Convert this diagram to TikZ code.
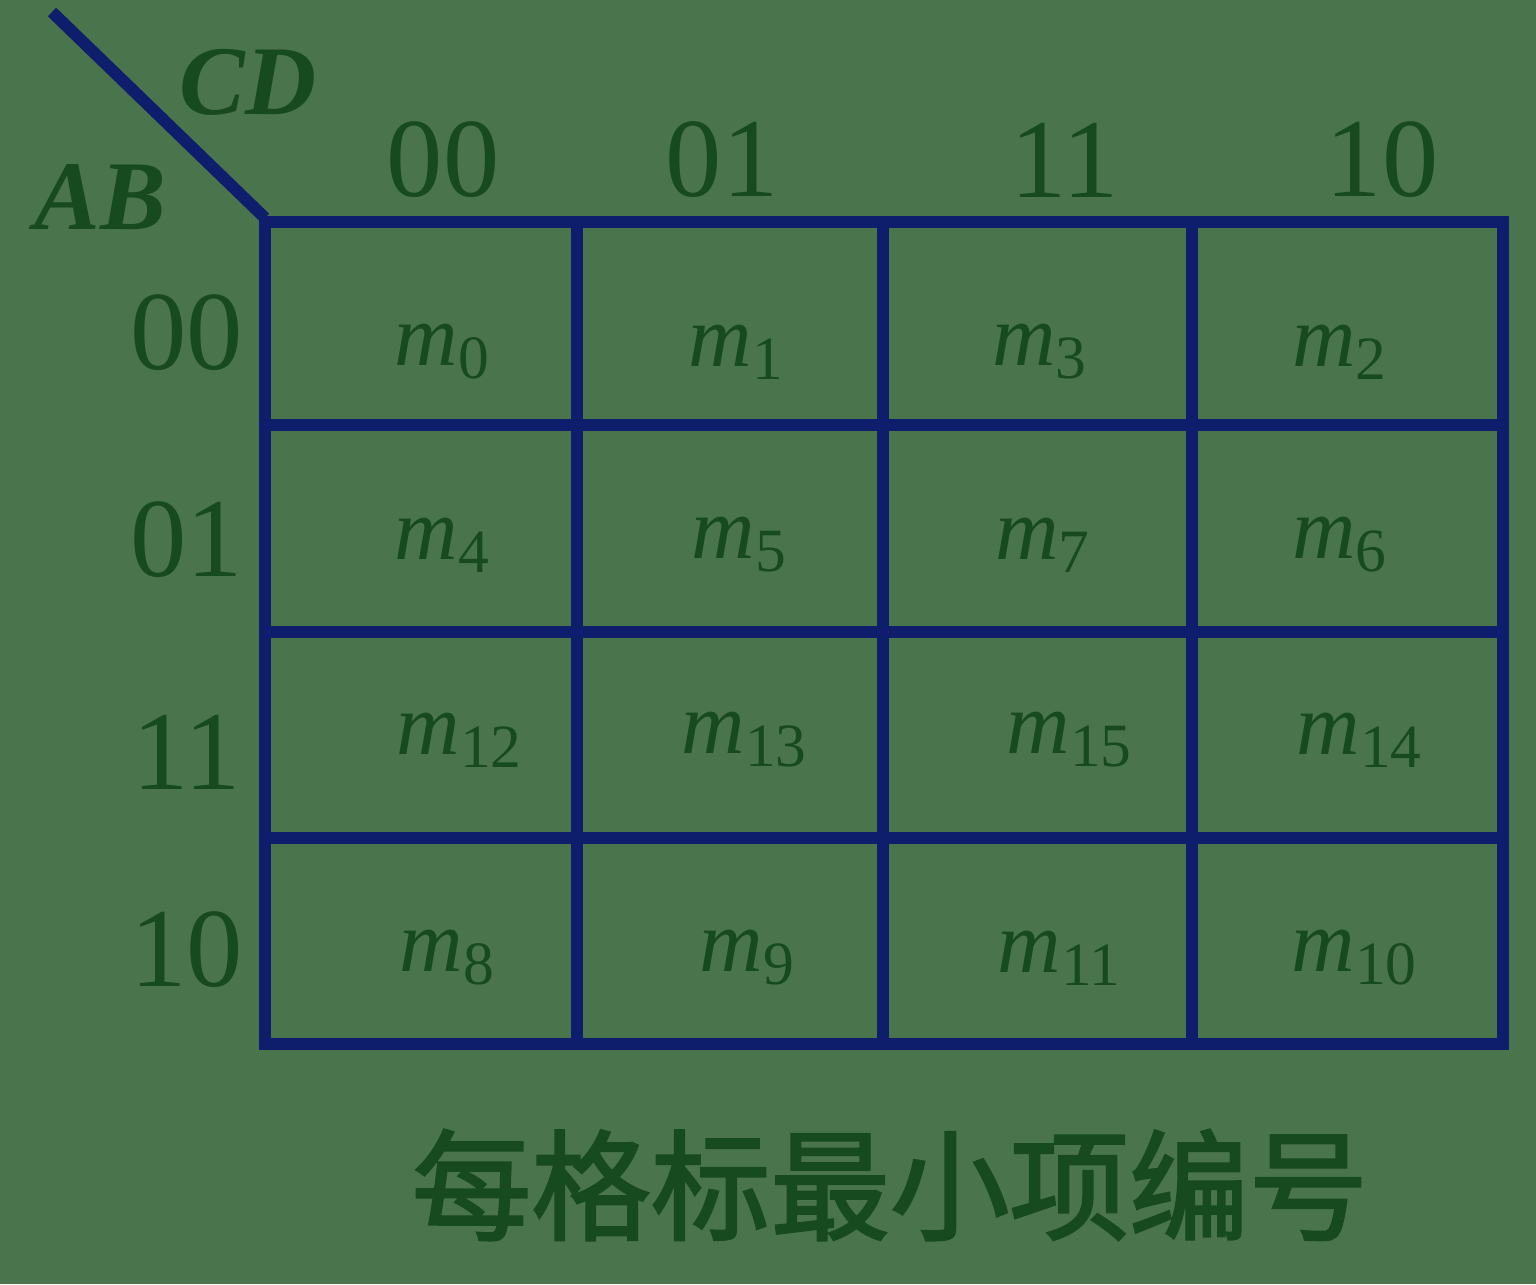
\documentclass[tikz,border=0pt]{standalone}
\usepackage{fontspec}
\setmainfont{Liberation Serif}
\newfontfamily\cjk[FakeBold=2]{Noto Sans CJK SC}
\definecolor{kbg}{HTML}{4A754C}
\definecolor{kline}{HTML}{0E1E6C}
\definecolor{ktext}{HTML}{174A1E}

\begin{document}
\begin{tikzpicture}[x=0.01cm,y=-0.01cm,
  grid/.style={kline,line width=3.4pt,line cap=rect},
  lbl/.style={ktext,font=\fontsize{32}{32}\selectfont},
  var/.style={ktext,font=\fontsize{28}{28}\selectfont\bfseries\itshape},
  cell/.style={ktext,font=\fontsize{25}{25}\selectfont}]
\fill[kbg](0,0)rectangle(1536,1284);
\useasboundingbox(0,0)rectangle(1536,1284);
% corner line
\coordinate(tl)at(52,12);\coordinate(corner)at(265,218);
\draw[kline,line width=3.4pt](tl)--(corner);
\node[var](cd)at(248,82){CD};\node[var](ab)at(100,197){AB};
% grid
\foreach \x in {265,577,883,1192,1503}\draw[grid](\x,222)--(\x,1044);
\foreach \y in {222,425,632,838,1044}\draw[grid](265,\y)--(1503,\y);
% headers
\foreach \t/\x [count=\i] in {00/443,01/722,11/1065,10/1382}\node[lbl](col\i)at(\x,160){\t};
\foreach \t/\y [count=\i] in {00/333,01/540,11/752,10/950}\node[lbl](row\i)at(187,\y){\t};
% minterms
\foreach \n/\x/\y in {0/443/352,1/737/352,3/1040/352,2/1340/352,
  4/443/545,5/740/545,7/1043/545,6/1340/545,
  12/460/740,13/745/740,15/1070/740,14/1360/740,
  8/448/958,9/748/958,11/1060/958,10/1355/958}
  \node[cell](m\n)at(\x,\y){\textit{m}\textsubscript{\n}};
\node[ktext,font=\cjk\fontsize{34}{34}\selectfont](cap)at(890,1185){每格标最小项编号};
\end{tikzpicture}
\end{document}
